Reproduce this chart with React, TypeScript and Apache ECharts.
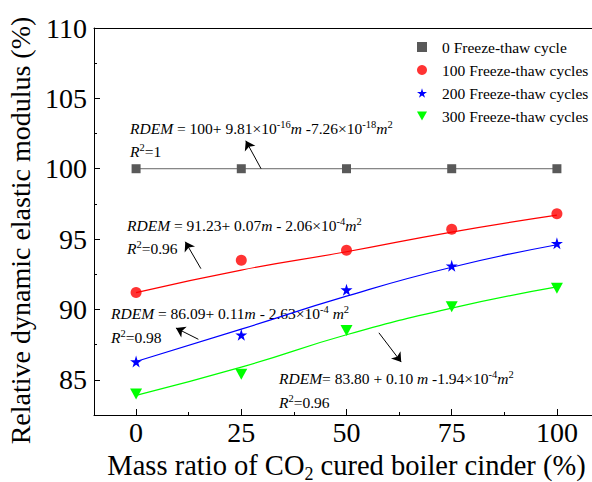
import React, { useEffect, useRef } from "react";
import * as echarts from "echarts";

// ---- data ----
const massRatio = [0, 25, 50, 75, 100];
const cycle0 = [100, 100, 100, 100, 100];
const cycle100 = [91.2, 93.5, 94.2, 95.7, 96.8];
const cycle200 = [86.3, 88.2, 91.4, 93.1, 94.7];
const cycle300 = [84.0, 85.4, 88.5, 90.2, 91.5];
// fitted curves as drawn in the reference
const fit100 = [91.2, 92.8, 94.1, 95.5, 96.7];
const fit200 = [86.3, 88.6, 90.95, 93.0, 94.6];
const fit300 = [83.9, 85.9, 88.2, 90.1, 91.6];

const seriesNames = [
  "0 Freeze-thaw cycle",
  "100 Freeze-thaw cycles",
  "200 Freeze-thaw cycles",
  "300 Freeze-thaw cycles",
];

const xMajorTicks = [0, 25, 50, 75, 100];
const xMinorTicks = [12.5, 37.5, 62.5, 87.5];
const yMajorTicks = [85, 90, 95, 100, 105, 110];
const yMinorTicks = [87.5, 92.5, 97.5, 102.5, 107.5];

// arrows: [fromX, fromY, toX, toY] in data coordinates
const arrows = [
  [29.7, 100.0, 26.07, 101.99],
  [15.4, 92.9, 11.7, 94.81],
  [14.8, 87.88, 9.47, 88.68],
  [57.7, 88.34, 63.0, 86.26],
];

const equations = [
  "{i|RDEM} = 100+ 9.81×10{sup|-16}{i|m} -7.26×10{sup|-18}{i|m}{sup|2}",
  "{i|RDEM} = 91.23+ 0.07{i|m} - 2.06×10{sup|-4}{i|m}{sup|2}",
  "{i|RDEM} = 86.09+ 0.11{i|m} - 2.63×10{sup|-4} {i|m}{sup|2}",
  "{i|RDEM}= 83.80 + 0.10 {i|m} -1.94×10{sup|-4}{i|m}{sup|2}",
];
const rSquared = ["1", "0.96", "0.98", "0.96"];

const FONT = "Liberation Serif";
const STAR =
  "path://M50,0 L61,35 L98,35 L68,57 L79,91 L50,70 L21,91 L32,57 L2,35 L39,35 Z";
const TRI_DOWN = "path://M0,0 L10,0 L5,9 Z";

const pairs = (ys: number[]) => massRatio.map((m, i) => [m, ys[i]]);

export default function App() {
  const ref = useRef<HTMLDivElement>(null);

  useEffect(() => {
    if (!ref.current) return;
    const chart = echarts.init(ref.current, null, { renderer: "svg" });

    const EQ = 15.5;
    const rich = {
      i: { fontStyle: "italic", fontSize: EQ, fontFamily: FONT, lineHeight: 18 },
      sup: { fontSize: 10.5, fontFamily: FONT, verticalAlign: "top", lineHeight: 10 },
    };
    const textPos = [
      [130, 128, 151],
      [127, 225, 248],
      [111, 313, 337],
      [279, 378, 402],
    ];
    const graphics: any[] = [];
    const mkText = (x: number, y: number, text: string) => ({
      type: "text",
      x,
      y,
      silent: true,
      style: {
        text,
        rich,
        fontSize: EQ,
        fontFamily: FONT,
        lineHeight: 18,
        fill: "#000",
        align: "left",
        verticalAlign: "middle",
      },
    });
    textPos.forEach((p, k) => {
      graphics.push(mkText(p[0], p[1], equations[k]));
      graphics.push(mkText(p[0], p[2], "{i|R}{sup|2}=" + rSquared[k]));
    });

    const axisLine = { show: true, onZero: false, lineStyle: { color: "#000", width: 1 } };

    chart.setOption({
      animation: false,
      backgroundColor: "#fff",
      textStyle: { fontFamily: FONT },
      grid: { left: 94, right: 1, top: 28, bottom: 67, containLabel: false, outerBoundsMode: "none" },
      xAxis: [
        {
          type: "value",
          min: -10,
          max: 110,
          position: "bottom",
          axisLine,
          axisTick: { show: true, inside: true, length: 6, customValues: xMajorTicks, lineStyle: { color: "#000" } },
          axisLabel: {
            customValues: xMajorTicks,
            fontFamily: FONT,
            fontSize: 28,
            color: "#000",
            margin: 3,
          },
          splitLine: { show: false },
          name: "Mass ratio of CO{sub|2} cured boiler cinder (%)",
          nameLocation: "middle",
          nameGap: 32,
          nameTextStyle: {
            fontFamily: FONT,
            fontSize: 28.5,
            color: "#000",
            lineHeight: 28,
            rich: {
              sub: {
                fontFamily: FONT,
                fontSize: 18,
                verticalAlign: "top",
                lineHeight: 18,
                padding: [14, 0, 0, 0],
              },
            },
          },
        },
        {
          type: "value",
          min: -10,
          max: 110,
          position: "bottom",
          axisLine: { show: false, onZero: false },
          axisTick: { show: true, inside: true, length: 3, customValues: xMinorTicks, lineStyle: { color: "#000" } },
          axisLabel: { show: false },
          splitLine: { show: false },
        },
        {
          type: "value",
          min: -10,
          max: 110,
          position: "top",
          axisLine,
          axisTick: { show: false },
          axisLabel: { show: false },
          splitLine: { show: false },
        },
      ],
      yAxis: [
        {
          type: "value",
          min: 82.5,
          max: 110,
          position: "left",
          axisLine,
          axisTick: { show: true, inside: true, length: 6, customValues: yMajorTicks, lineStyle: { color: "#000" } },
          axisLabel: {
            customValues: yMajorTicks,
            fontFamily: FONT,
            fontSize: 28,
            color: "#000",
            margin: 7,
          },
          splitLine: { show: false },
          name: "Relative dynamic elastic modulus (%)",
          nameLocation: "middle",
          nameGap: 53,
          nameTextStyle: { fontFamily: FONT, fontSize: 28, color: "#000", padding: [0, 18, 0, 0] },
        },
        {
          type: "value",
          min: 82.5,
          max: 110,
          position: "left",
          axisLine: { show: false, onZero: false },
          axisTick: { show: true, inside: true, length: 3, customValues: yMinorTicks, lineStyle: { color: "#000" } },
          axisLabel: { show: false },
          splitLine: { show: false },
        },
      ],
      legend: {
        orient: "vertical",
        left: 412,
        top: 34,
        itemWidth: 10,
        itemHeight: 10,
        itemGap: 7,
        selectedMode: false,
        textStyle: { fontFamily: FONT, fontSize: 15.5, color: "#000", lineHeight: 15, padding: [0, 0, 0, 10] },
        data: [
          { name: seriesNames[0], icon: "rect" },
          { name: seriesNames[1], icon: "circle" },
          { name: seriesNames[2], icon: STAR },
          { name: seriesNames[3], icon: TRI_DOWN },
        ],
      },
      series: [
        {
          name: "fit100",
          type: "line",
          data: pairs(fit100),
          smooth: true,
          symbol: "none",
          lineStyle: { color: "#ff0000", width: 1.2 },
          silent: true,
        },
        {
          name: "fit200",
          type: "line",
          data: pairs(fit200),
          smooth: true,
          symbol: "none",
          lineStyle: { color: "#0000ff", width: 1.2 },
          silent: true,
        },
        {
          name: "fit300",
          type: "line",
          data: pairs(fit300),
          smooth: true,
          symbol: "none",
          lineStyle: { color: "#00ff00", width: 1.2 },
          silent: true,
        },
        {
          name: seriesNames[0],
          type: "line",
          data: pairs(cycle0),
          symbol: "rect",
          symbolSize: 9,
          itemStyle: { color: "#595959" },
          lineStyle: { color: "#666666", width: 1 },
        },
        {
          name: seriesNames[1],
          type: "scatter",
          data: pairs(cycle100),
          symbol: "circle",
          symbolSize: 11,
          itemStyle: { color: "#ff3333", opacity: 1 },
        },
        {
          name: seriesNames[2],
          type: "scatter",
          data: pairs(cycle200),
          symbol: STAR,
          symbolSize: 12,
          itemStyle: { color: "#0000ff", opacity: 1 },
        },
        {
          name: seriesNames[3],
          type: "scatter",
          data: pairs(cycle300),
          symbol: TRI_DOWN,
          symbolSize: [12, 11],
          itemStyle: { color: "#00ff00", opacity: 1 },
        },
        {
          name: "arrows",
          type: "scatter",
          data: [],
          silent: true,
          markLine: {
            silent: true,
            animation: false,
            symbol: ["none", "arrow"],
            symbolSize: 9,
            label: { show: false },
            lineStyle: { color: "#000", width: 1, type: "solid" },
            emphasis: { disabled: true },
            data: arrows.map((a) => [
              { coord: [a[0], a[1]] },
              { coord: [a[2], a[3]] },
            ]),
          },
        },
      ],
      graphic: graphics,
    });

    return () => chart.dispose();
  }, []);

  return (
    <div
      style={{
        position: "absolute",
        left: 0,
        top: 0,
        width: 592,
        height: 482,
        overflow: "hidden",
        background: "#fff",
      }}
    >
      <div ref={ref} style={{ width: 600, height: 482 }} />
    </div>
  );
}
